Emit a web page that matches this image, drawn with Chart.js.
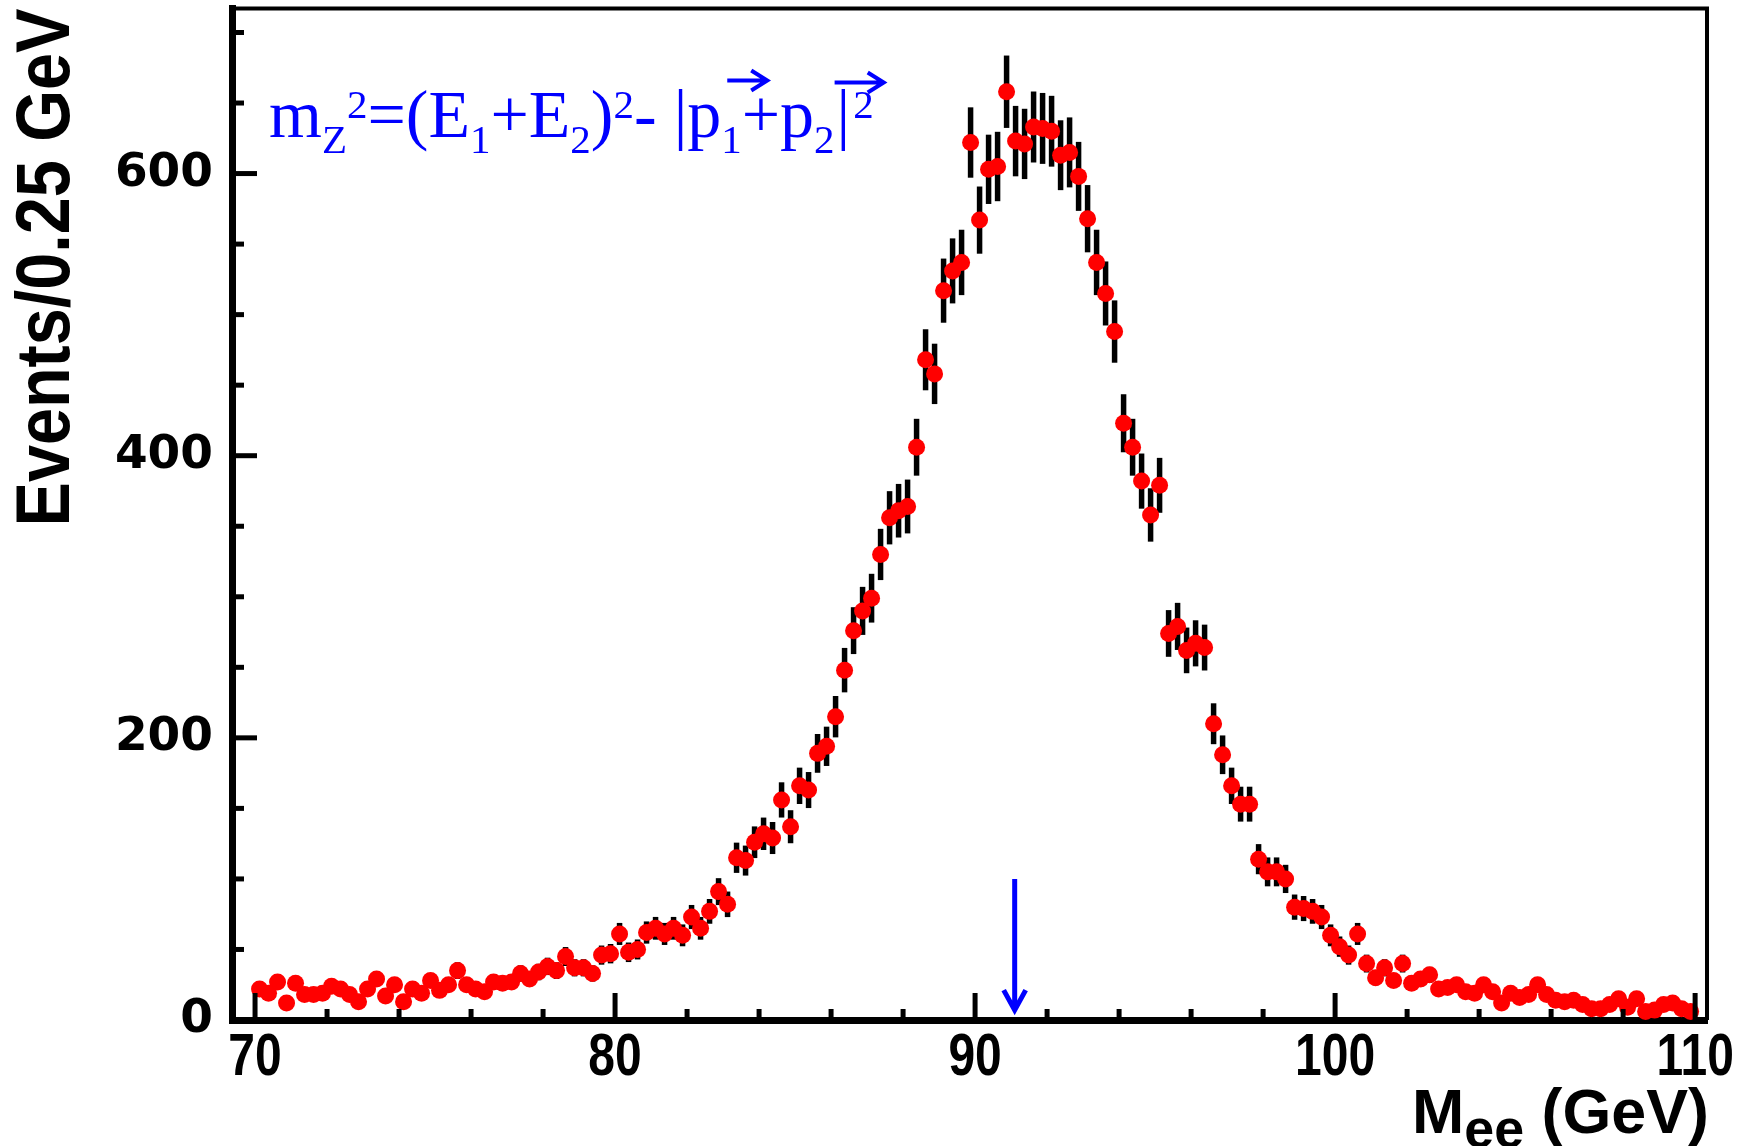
<!DOCTYPE html>
<html>
<head>
<meta charset="utf-8">
<script src="https://cdn.jsdelivr.net/npm/chart.js@4.4.1/dist/chart.umd.min.js"></script>
<style>
  html, body { margin: 0; padding: 0; background: #fff; }
  #wrap { width: 1755px; height: 1146px; }
</style>
</head>
<body>
<div id="wrap"><canvas id="mee" width="1755" height="1146"></canvas></div>
<script>
// di-electron invariant mass, 0.25 GeV bins from 70 to 110 GeV
const binLow = 70;
const binWidth = 0.25;
const counts = [
  22, 19, 27, 12, 26, 18, 18, 19, 24, 22,
  18, 13, 22, 29, 17, 25, 13, 22, 19, 28,
  21, 25, 35, 25, 22, 20, 27, 26, 27, 33,
  29, 34, 38, 35, 45, 37, 37, 33, 46, 47,
  61, 48, 50, 62, 65, 61, 65, 60, 73, 65,
  77, 91, 82, 115, 113, 126, 132, 129, 156, 137,
  166, 163, 189, 194, 215, 248, 276, 290, 299, 330,
  356, 361, 364, 406, 468, 458, 517, 531, 537, 622,
  567, 603, 605, 658, 623, 621, 633, 632, 630, 613,
  615, 598, 568, 537, 515, 488, 423, 406, 382, 358,
  379, 274, 279, 262, 267, 264, 210, 188, 166, 153,
  153, 114, 105, 105, 100, 80, 79, 77, 73, 60,
  52, 46, 61, 40, 30, 37, 28, 40, 26, 29,
  32, 22, 23, 25, 20, 19, 25, 20, 12, 19,
  16, 18, 25, 18, 14, 13, 14, 11, 8, 8,
  11, 15, 9, 15, 6, 7, 11, 12, 8, 6
];
const xTicks = [70, 80, 90, 100, 110];
const yTicks = [0, 200, 400, 600];

// Z mass marker arrow (GeV, events)
const arrowX = 91.1;
const arrowFrom = 100;
const arrowTo = 7;

const points = counts.map((n, i) => ({ x: binLow + (i + 0.5) * binWidth, y: n }));

const sans = "'Liberation Sans', Arial, sans-serif";
const serif = "'Liberation Serif', 'Times New Roman', serif";

// horizontally squeezed text (no condensed face installed)
function squeezed(ctx, text, x, y, sx) {
  ctx.save();
  ctx.translate(x, y);
  ctx.scale(sx, 1);
  ctx.fillText(text, 0, 0);
  ctx.restore();
}

// poisson error bars, drawn under the markers
const errorBars = {
  id: 'errorBars',
  beforeDatasetsDraw(chart) {
    const { ctx, scales: { x, y } } = chart;
    ctx.save();
    ctx.strokeStyle = '#000';
    ctx.lineWidth = 5.5;
    points.forEach(p => {
      const e = Math.sqrt(p.y);
      const px = x.getPixelForValue(p.x);
      ctx.beginPath();
      ctx.moveTo(px, y.getPixelForValue(p.y - e));
      ctx.lineTo(px, y.getPixelForValue(p.y + e));
      ctx.stroke();
    });
    ctx.restore();
  }
};

// frame on top/right plus inward tick marks
const frame = {
  id: 'frame',
  afterDatasetsDraw(chart) {
    const { ctx, chartArea: a, scales: { x, y } } = chart;
    ctx.save();
    ctx.strokeStyle = '#000';
    ctx.lineWidth = 4;
    ctx.beginPath();
    ctx.moveTo(a.left, a.top);
    ctx.lineTo(a.right, a.top);
    ctx.lineTo(a.right, a.bottom);
    ctx.stroke();

    ctx.lineWidth = 5;
    for (let v = 50; v <= y.max; v += 50) {
      const py = y.getPixelForValue(v);
      const len = v % 200 === 0 ? 25 : 12;
      ctx.beginPath();
      ctx.moveTo(a.left, py);
      ctx.lineTo(a.left + len, py);
      ctx.stroke();
    }
    for (let v = 70; v <= 110; v += 2) {
      const px = x.getPixelForValue(v);
      const len = v % 10 === 0 ? 27 : 11;
      ctx.beginPath();
      ctx.moveTo(px, a.bottom);
      ctx.lineTo(px, a.bottom - len);
      ctx.stroke();
    }
    ctx.restore();
  }
};

// draws text pieces left to right, returns start x of each piece
function drawRuns(ctx, x0, base, runs) {
  let x = x0;
  const starts = [];
  runs.forEach(r => {
    ctx.font = r.font;
    x += r.gap || 0;
    starts.push(x);
    ctx.fillText(r.t, x, base + (r.dy || 0));
    x += ctx.measureText(r.t).width;
  });
  starts.push(x);
  return starts;
}

function vecArrow(ctx, x1, x2, y) {
  ctx.beginPath();
  ctx.moveTo(x1, y);
  ctx.lineTo(x2, y);
  ctx.moveTo(x2 - 16, y - 10);
  ctx.lineTo(x2, y);
  ctx.lineTo(x2 - 16, y + 10);
  ctx.stroke();
}

const labels = {
  id: 'labels',
  afterDraw(chart) {
    const { ctx, chartArea: a, scales: { x, y } } = chart;
    ctx.save();

    // x tick labels, narrow bold
    ctx.fillStyle = '#000';
    ctx.font = `bold 60px ${sans}`;
    ctx.textBaseline = 'alphabetic';
    x.ticks.forEach(t => {
      const w = ctx.measureText(t.label).width * 0.8;
      squeezed(ctx, t.label, x.getPixelForValue(t.value) - w / 2, 1075, 0.8);
    });

    // y axis title, rotated
    ctx.font = `bold 76px ${sans}`;
    const yt = 'Events/0.25 GeV';
    const ysx = 518 / ctx.measureText(yt).width;
    ctx.save();
    ctx.translate(69, a.top);
    ctx.rotate(-Math.PI / 2);
    ctx.scale(ysx, 1);
    ctx.textAlign = 'right';
    ctx.fillText(yt, 0, 0);
    ctx.restore();

    // x axis title with subscript
    const tf = `bold 63px ${sans}`;
    const sf = `bold 54px ${sans}`;
    ctx.font = tf;
    const wM = ctx.measureText('M').width;
    const wG = ctx.measureText(' (GeV)').width;
    ctx.font = sf;
    const wE = ctx.measureText('ee').width;
    const xsx = 297 / (wM + wE + wG);
    const base = 1133;
    ctx.save();
    ctx.translate(a.right + 2 - 297, base);
    ctx.scale(xsx, 1);
    ctx.font = tf;
    ctx.fillText('M', 0, 0);
    ctx.font = sf;
    ctx.fillText('ee', wM, 14);
    ctx.font = tf;
    ctx.fillText(' (GeV)', wM + wE, 0);
    ctx.restore();

    // formula
    ctx.fillStyle = '#0000ff';
    ctx.strokeStyle = '#0000ff';
    const big = `68px ${serif}`;
    const small = `41px ${serif}`;
    const sub = 16, sup = -19;
    const runs = [
      { t: 'm', font: big }, { t: 'Z', font: small, dy: sub }, { t: '2', font: small, dy: sup },
      { t: '=(E', font: big }, { t: '1', font: small, dy: sub },
      { t: '+E', font: big }, { t: '2', font: small, dy: sub },
      { t: ')', font: big }, { t: '2', font: small, dy: sup },
      { t: '- |p', font: big }, { t: '1', font: small, dy: sub },
      { t: '+p', font: big }, { t: '2', font: small, dy: sub },
      { t: '|', font: big, gap: 2 }, { t: '2', font: small, dy: sup, gap: 3 }
    ];
    const fb = a.top + 128;
    const s = drawRuns(ctx, a.left + 37, fb, runs);
    ctx.lineWidth = 4;
    vecArrow(ctx, s[10] + 6, s[10] + 46, fb - 56);
    vecArrow(ctx, s[13] - 2, s[15] + 10, fb - 54);

    // arrow at the Z mass
    const ax = x.getPixelForValue(arrowX);
    const ay1 = y.getPixelForValue(arrowFrom);
    const ay2 = y.getPixelForValue(arrowTo);
    ctx.lineWidth = 5;
    ctx.beginPath();
    ctx.moveTo(ax, ay1);
    ctx.lineTo(ax, ay2 - 2);
    ctx.moveTo(ax - 11, ay2 - 20);
    ctx.lineTo(ax, ay2);
    ctx.lineTo(ax + 11, ay2 - 20);
    ctx.stroke();
    ctx.restore();
  }
};

new Chart(document.getElementById('mee'), {
  type: 'scatter',
  data: {
    datasets: [{
      data: points,
      pointRadius: 8.5,
      pointHoverRadius: 8.5,
      pointBackgroundColor: '#ff0000',
      pointBorderWidth: 0,
      clip: false
    }]
  },
  options: {
    responsive: false,
    animation: false,
    events: [],
    layout: { padding: { top: 6, right: 48, left: 0, bottom: 0 } },
    plugins: { legend: { display: false }, tooltip: { enabled: false } },
    scales: {
      x: {
        type: 'linear',
        min: 69.36,
        max: 110.33,
        afterFit: s => { s.height = 126; s.paddingLeft = 0; s.paddingRight = 0; },
        afterBuildTicks: s => { s.ticks = xTicks.map(v => ({ value: v })); },
        grid: { display: false, drawTicks: false },
        border: { display: true, color: '#000', width: 7 },
        ticks: { display: false, autoSkip: false }
      },
      y: {
        min: 0,
        max: 717,
        afterFit: s => { s.width = 232; s.paddingTop = 0; s.paddingBottom = 0; },
        afterBuildTicks: s => { s.ticks = yTicks.map(v => ({ value: v })); },
        grid: { display: false, drawTicks: false },
        border: { display: true, color: '#000', width: 7 },
        ticks: {
          autoSkip: false, padding: 19, color: '#000',
          font: { family: "'DejaVu Sans', sans-serif", weight: 'bold', size: 47 }
        }
      }
    }
  },
  plugins: [errorBars, frame, labels]
});
</script>
</body>
</html>
